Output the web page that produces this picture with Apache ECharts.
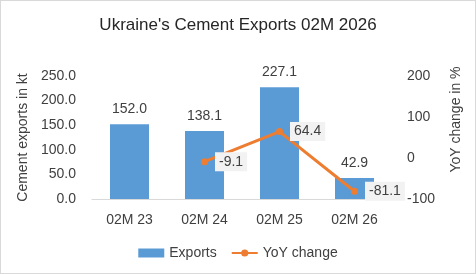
<!DOCTYPE html>
<html>
<head>
<meta charset="utf-8">
<script src="https://cdn.jsdelivr.net/npm/echarts@6/dist/echarts.min.js"></script>
<style>
  html, body { margin: 0; padding: 0; background: #fff; }
  #chart { width: 474px; height: 272px; border: 1px solid #d9d9d9; }
</style>
</head>
<body>
<div id="chart"></div>
<script>
const categories = ['02M 23', '02M 24', '02M 25', '02M 26']
const exportsKt = [152.0, 138.1, 227.1, 42.9]
const yoyChange = [null, -9.1, 64.4, -81.1]

const font = 'Liberation Sans'
const textColor = '#404040'

const chart = echarts.init(document.getElementById('chart'), null, { renderer: 'canvas' })

chart.setOption({
  animation: false,
  textStyle: { fontFamily: font },
  title: {
    text: "Ukraine's Cement Exports 02M 2026",
    left: 'center',
    top: 11,
    textStyle: { fontFamily: font, fontSize: 17, fontWeight: 'normal', color: '#262626' },
  },
  legend: {
    bottom: 8,
    left: 'center',
    itemGap: 14,
    itemWidth: 26,
    itemHeight: 9,
    textStyle: { fontFamily: font, fontSize: 14, color: textColor },
    data: [
      { name: 'Exports', icon: 'rect' },
      { name: 'YoY change' },
    ],
  },
  grid: { left: 91, right: 83, top: 75, bottom: 74 },
  xAxis: {
    type: 'category',
    data: categories,
    axisLine: { lineStyle: { color: '#d9d9d9' } },
    axisTick: { show: false },
    axisLabel: { fontFamily: font, fontSize: 14, color: textColor, margin: 14 },
  },
  yAxis: [
    {
      type: 'value',
      min: 0,
      max: 250,
      interval: 50,
      name: 'Cement exports in kt',
      nameLocation: 'middle',
      nameGap: 61,
      nameTextStyle: { fontFamily: font, fontSize: 14, color: textColor },
      splitLine: { show: false },
      axisLine: { show: false },
      axisTick: { show: false },
      axisLabel: {
        fontFamily: font, fontSize: 14, color: textColor, margin: 16,
        formatter: v => v.toFixed(1),
      },
    },
    {
      type: 'value',
      min: -100,
      max: 200,
      interval: 100,
      name: 'YoY change in %',
      nameLocation: 'middle',
      nameRotate: 90,
      nameGap: 57,
      nameTextStyle: { fontFamily: font, fontSize: 14, color: textColor, padding: [0, 0, 0, 36] },
      splitLine: { show: false },
      axisLine: { show: false },
      axisTick: { show: false },
      axisLabel: { fontFamily: font, fontSize: 14, color: textColor, margin: 15 },
    },
  ],
  series: [
    {
      name: 'Exports',
      type: 'bar',
      data: exportsKt,
      barWidth: 39,
      itemStyle: { color: '#5b9bd5' },
      label: {
        show: true,
        position: 'top',
        distance: 8,
        fontFamily: font,
        fontSize: 14,
        color: textColor,
        formatter: p => p.value.toFixed(1),
      },
    },
    {
      name: 'YoY change',
      type: 'line',
      yAxisIndex: 1,
      data: yoyChange,
      symbol: 'circle',
      symbolSize: 7,
      lineStyle: { color: '#ed7d31', width: 3 },
      itemStyle: { color: '#ed7d31' },
      label: {
        show: true,
        position: 'right',
        distance: 7,
        fontFamily: font,
        fontSize: 14,
        color: textColor,
        backgroundColor: '#f2f2f2',
        padding: [3, 4, 2, 4],
        formatter: p => p.value.toFixed(1),
      },
    },
  ],
})
</script>
</body>
</html>
